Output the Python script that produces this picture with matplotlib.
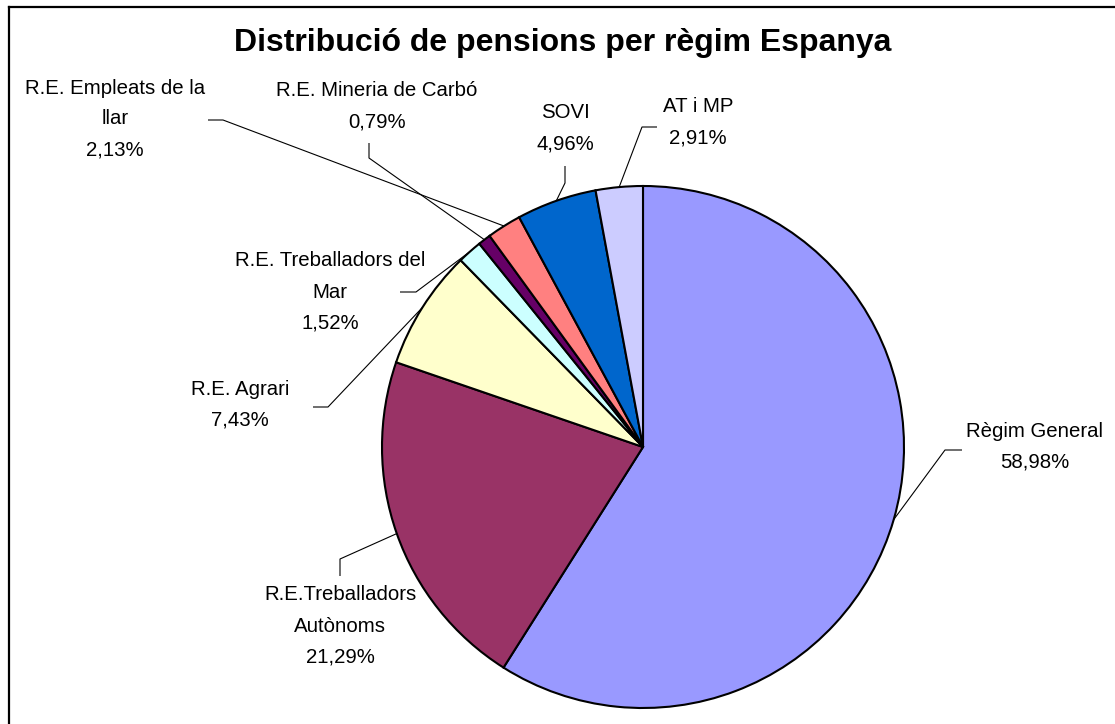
import matplotlib.pyplot as plt
from matplotlib.lines import Line2D
import numpy as np

plt.rcParams['font.family'] = ['Liberation Sans', 'DejaVu Sans']

labels = ['Règim General', 'R.E.Treballadors\nAutònoms', 'R.E. Agrari',
          'R.E. Treballadors del\nMar', 'R.E. Mineria de Carbó',
          'R.E. Empleats de la\nllar', 'SOVI', 'AT i MP']
values = [58.98, 21.29, 7.43, 1.52, 0.79, 2.13, 4.96, 2.91]
colors = ['#9999FF', '#993366', '#FFFFCC', '#CCFFFF',
          '#660066', '#FF8080', '#0066CC', '#CCCCFF']

W, H = 1115, 724
# label layout in pixels (screen y from top): text centre, leader elbow, leader end
text_pos = [(1035, 447), (340, 626), (240, 405), (330, 292),
            (377, 106), (115, 119), (565, 128), (698, 122)]
elbows = [(945, 450), (340, 559), (328, 407), (416, 292),
          (369, 158), (223, 120), (565, 183), (642, 127)]
ends = [(962, 450), (340, 576), (313, 407), (400, 292),
        (369, 143), (208, 120), (565, 166), (657, 127)]

fig = plt.figure(figsize=(W / 100, H / 100), dpi=100)
ax = fig.add_axes([0, 0, 1, 1])
cx, cy, r = 643, H - 447, 261
wedges, _ = ax.pie(values, colors=colors, startangle=90, counterclock=False,
                   center=(cx, cy), radius=r,
                   wedgeprops=dict(edgecolor='black', linewidth=1.5))
ax.set_xlim(0, W)
ax.set_ylim(0, H)
ax.set_aspect('equal')
ax.axis('off')

for w, lab, v, tp, el, en in zip(wedges, labels, values, text_pos, elbows, ends):
    ang = np.deg2rad((w.theta1 + w.theta2) / 2)
    x0 = cx + r * np.cos(ang)
    y0 = cy + r * np.sin(ang)
    ax.plot([x0, el[0], en[0]], [y0, H - el[1], H - en[1]],
            color='black', lw=0.8, solid_capstyle='butt')
    txt = lab + '\n' + f'{v:.2f}'.replace('.', ',') + '%'
    ax.text(tp[0], H - tp[1], txt, ha='center', va='center',
            fontsize=14.7, linespacing=1.8, color='black')

fig.text(563 / W, 1 - 43 / H, 'Distribució de pensions per règim Espanya',
         ha='center', va='center', fontsize=23, fontweight='bold')

# chart frame (left and top edges visible)
fig.add_artist(Line2D([9 / W, 9 / W], [0, 1 - 7 / H], color='black', lw=1.6))
fig.add_artist(Line2D([9 / W, 1], [1 - 7 / H, 1 - 7 / H], color='black', lw=1.6))

fig.savefig('out.png', dpi=100)
